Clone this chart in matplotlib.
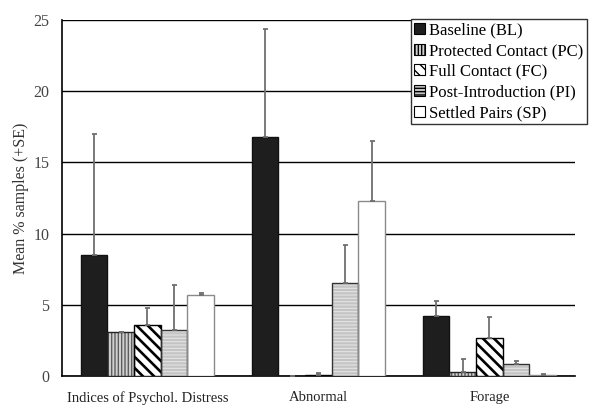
import numpy as np
import matplotlib
matplotlib.use("Agg")
import matplotlib.pyplot as plt
from matplotlib.patches import Patch

# data
groups = ["Indices of Psychol. Distress", "Abnormal", "Forage"]
series = ["Baseline (BL)", "Protected Contact (PC)", "Full Contact (FC)",
          "Post-Introduction (PI)", "Settled Pairs (SP)"]
bl = [8.5, 16.8, 4.2]
pc = [3.1, 0.0, 0.3]
fc = [3.6, 0.1, 2.65]
pi = [3.2, 6.5, 0.85]
sp = [5.7, 12.3, 0.1]
bl_se = [8.5, 7.6, 1.05]
pc_se = [0.0, 0.0, 0.9]
fc_se = [1.2, 0.1, 1.5]
pi_se = [3.2, 2.7, 0.2]
sp_se = [0.1, 4.2, 0.05]

means = [bl, pc, fc, pi, sp]
errs = [bl_se, pc_se, fc_se, pi_se, sp_se]

# look of each series: face, hatch, hatch colour, hatch width, edge
styles = [
    dict(fc="#1e1e1e", hatch="", hc="#1e1e1e", hw=1.0, ec="#111111"),
    dict(fc="#d0d0d0", hatch="|||||", hc="#5e5e5e", hw=1.0, ec="#222222"),
    dict(fc="white", hatch="\\\\\\", hc="black", hw=1.9, ec="black"),
    dict(fc="#c4c4c4", hatch="-----", hc="#e4e4e4", hw=0.8, ec="#333333"),
    dict(fc="white", hatch="", hc="white", hw=1.0, ec="#8a8a8a"),
]

plt.rcParams["font.family"] = ["Liberation Serif", "DejaVu Serif"]

fig = plt.figure(figsize=(6.0, 4.16), dpi=100)
ax = fig.add_axes([0.103, 0.096, 0.855, 0.856])

x = np.arange(len(groups))
w = 0.156

for i in range(len(series)):
    st = styles[i]
    pos = x + (i - 2) * w
    with plt.rc_context({"hatch.linewidth": st["hw"]}):
        b = ax.bar(pos, means[i], width=w, color=st["fc"], hatch=st["hatch"],
                   edgecolor=st["hc"], linewidth=0, zorder=3)
        for p in b:
            if hasattr(p, "set_hatch_linewidth"):
                p.set_hatch_linewidth(st["hw"])
    ax.bar(pos, means[i], width=w, fill=False, edgecolor=st["ec"],
           linewidth=1.0, zorder=4)
    lo = np.zeros(len(groups))
    ax.errorbar(pos, means[i], yerr=[lo, errs[i]], fmt="none",
                ecolor="#6f6f6f", elinewidth=1.3, capsize=1.8,
                capthick=1.3, zorder=5)

ax.set_xlim(-0.5, 2.5)
ax.set_ylim(0, 25)
ax.set_yticks([0, 5, 10, 15, 20, 25])
ax.yaxis.grid(True, color="black", linewidth=1.0)
ax.set_axisbelow(True)
ax.set_xticks(x)
ax.set_xticklabels(groups, fontsize=10.5)
ax.tick_params(axis="x", length=0, pad=11, colors="#222222")
ax.tick_params(axis="y", length=0, pad=9, labelsize=11.5, colors="#444444")
for s in ["top", "right"]:
    ax.spines[s].set_visible(False)
ax.spines["left"].set_linewidth(1.2)
ax.spines["bottom"].set_linewidth(1.2)
ax.set_ylabel("Mean % samples (+SE)", fontsize=11.5, labelpad=3,
              color="#333333")

handles = []
for i in range(len(series)):
    st = styles[i]
    handles.append(Patch(facecolor=st["fc"], hatch=st["hatch"],
                         edgecolor="black", linewidth=0.8))
leg = fig.legend(handles, series, loc="upper right",
                 bbox_to_anchor=(587 / 600, 1 - 19 / 416),
                 fontsize=12, frameon=True, fancybox=False,
                 edgecolor="#333333", framealpha=1, borderpad=0.2,
                 labelspacing=0.28, handlelength=0.65, handleheight=0.65,
                 handletextpad=0.25, borderaxespad=0)
leg.get_frame().set_linewidth(1.0)

fig.savefig("out.png", dpi=100)
